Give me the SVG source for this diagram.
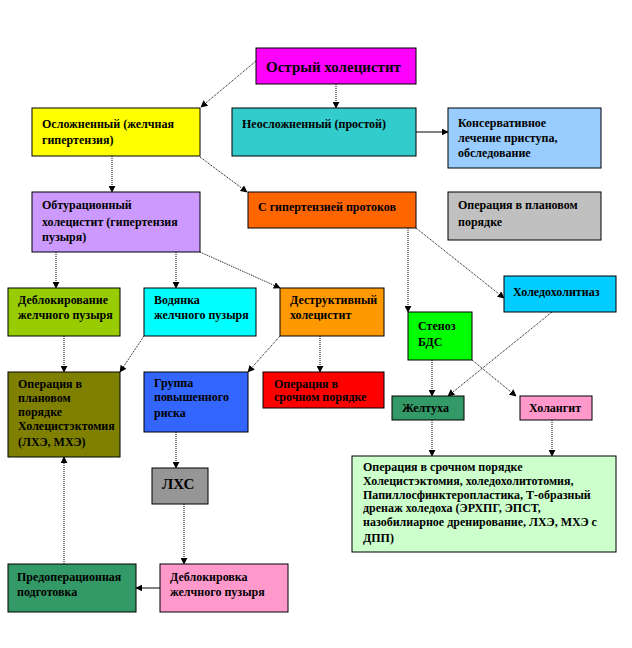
<svg xmlns="http://www.w3.org/2000/svg" width="632" height="648" viewBox="0 0 632 648">
<defs>
<marker id="ah" viewBox="0 0 10 10" refX="9" refY="5" markerWidth="7" markerHeight="7" orient="auto" markerUnits="userSpaceOnUse">
<path d="M0,0 L10,5 L0,10 z" fill="#000"/>
</marker>
<style>
.n rect{stroke:#000;stroke-width:1}
.n text{font-family:"Liberation Serif","Times New Roman",serif;font-weight:bold;font-size:12px;fill:#000}
.c line{stroke:#000;stroke-width:1;marker-end:url(#ah)}
.c .d{stroke-dasharray:1 1}
</style>
</defs>
<rect width="632" height="648" fill="#fff"/>
<g class="c" id="connectors">
<line class="d" x1="256" y1="61" x2="201" y2="107"/>
<line class="d" x1="336" y1="84" x2="336" y2="108"/>
<line x1="416" y1="132" x2="448" y2="132"/>
<line class="d" x1="112" y1="156" x2="112" y2="192"/>
<line class="d" x1="200" y1="157" x2="247" y2="192"/>
<line class="d" x1="56" y1="252" x2="56" y2="288"/>
<line class="d" x1="176" y1="252" x2="176" y2="288"/>
<line class="d" x1="200" y1="252" x2="280" y2="288"/>
<line class="d" x1="64" y1="336" x2="64" y2="372"/>
<line class="d" x1="144" y1="336" x2="120" y2="372"/>
<line class="d" x1="280" y1="336" x2="248" y2="372"/>
<line class="d" x1="320" y1="336" x2="320" y2="372"/>
<line class="d" x1="408" y1="228" x2="408" y2="312"/>
<line class="d" x1="416" y1="228" x2="504" y2="298"/>
<line class="d" x1="552" y1="312" x2="448" y2="396"/>
<line class="d" x1="432" y1="360" x2="432" y2="396"/>
<line class="d" x1="472" y1="360" x2="516" y2="396"/>
<line class="d" x1="432" y1="420" x2="432" y2="456"/>
<line class="d" x1="552" y1="420" x2="552" y2="456"/>
<line class="d" x1="176" y1="432" x2="176" y2="468"/>
<line class="d" x1="184" y1="504" x2="184" y2="564"/>
<line x1="160" y1="588" x2="136" y2="588"/>
<line class="d" x1="64" y1="564" x2="64" y2="457"/>
</g>
<g class="n" id="n1"><rect x="256" y="48" width="160" height="36" fill="#FF00FF"/><text x="266" y="72" style="font-size:15px">Острый холецистит</text></g>
<g class="n" id="n2"><rect x="32" y="108" width="168" height="48" fill="#FFFF00"/><text x="42" y="128">Осложненный (желчная</text><text x="42" y="144">гипертензия)</text></g>
<g class="n" id="n3"><rect x="232" y="108" width="184" height="48" fill="#33CCCC"/><text x="242" y="128">Неосложненный (простой)</text></g>
<g class="n" id="n4"><rect x="448" y="108" width="153" height="60" fill="#99CCFF"/><text x="458" y="127">Консервативное</text><text x="458" y="142">лечение приступа,</text><text x="458" y="157">обследование</text></g>
<g class="n" id="n5"><rect x="248" y="192" width="168" height="36" fill="#FF6600"/><text x="258" y="211">С гипертензией протоков</text></g>
<g class="n" id="n6"><rect x="448" y="192" width="153" height="48" fill="#C0C0C0"/><text x="458" y="209">Операция в плановом</text><text x="458" y="226">порядке</text></g>
<g class="n" id="n7"><rect x="32" y="192" width="168" height="60" fill="#CC99FF"/><text x="42" y="209">Обтурационный</text><text x="42" y="226">холецистит  (гипертензия</text><text x="42" y="241">пузыря)</text></g>
<g class="n" id="n8"><rect x="8" y="288" width="112" height="48" fill="#99CC00"/><text x="18" y="304">Деблокирование</text><text x="18" y="319">желчного пузыря</text></g>
<g class="n" id="n9"><rect x="144" y="288" width="112" height="48" fill="#00FFFF"/><text x="154" y="304">Водянка</text><text x="154" y="319">желчного пузыря</text></g>
<g class="n" id="n10"><rect x="280" y="288" width="104" height="48" fill="#FF9900"/><text x="290" y="304">Деструктивный</text><text x="290" y="319">холецистит</text></g>
<g class="n" id="n11"><rect x="8" y="372" width="112" height="85" fill="#808000"/><text x="18" y="388">Операция в</text><text x="18" y="402">плановом</text><text x="18" y="416">порядке</text><text x="18" y="430">Холецистэктомия</text><text x="18" y="446">(ЛХЭ, МХЭ)</text></g>
<g class="n" id="n12"><rect x="144" y="372" width="104" height="60" fill="#3366FF"/><text x="154" y="387">Группа</text><text x="154" y="401">повышенного</text><text x="154" y="417">риска</text></g>
<g class="n" id="n13"><rect x="263" y="372" width="121" height="36" fill="#FF0000"/><text x="274" y="388">Операция в</text><text x="274" y="401">срочном порядке</text></g>
<g class="n" id="n14"><rect x="504" y="276" width="112" height="36" fill="#00CCFF"/><text x="513" y="296">Холедохолитиаз</text></g>
<g class="n" id="n15"><rect x="408" y="312" width="64" height="48" fill="#00FF00"/><text x="418" y="330">Стеноз</text><text x="418" y="346">БДС</text></g>
<g class="n" id="n16"><rect x="392" y="396" width="72" height="24" fill="#339966"/><text x="402" y="412">Желтуха</text></g>
<g class="n" id="n17"><rect x="520" y="396" width="72" height="24" fill="#FF99CC"/><text x="529" y="412">Холангит</text></g>
<g class="n" id="n18"><rect x="352" y="456" width="264" height="96" fill="#CCFFCC"/><text x="363" y="471">Операция в срочном порядке</text><text x="363" y="485">Холецистэктомия, холедохолитотомия,</text><text x="363" y="499">Папиллосфинктеропластика,  Т-образный</text><text x="363" y="512">дренаж холедоха  (ЭРХПГ, ЭПСТ,</text><text x="363" y="526">назобилиарное  дренирование, ЛХЭ, МХЭ с</text><text x="363" y="542">ДПП)</text></g>
<g class="n" id="n19"><rect x="152" y="468" width="56" height="36" fill="#969696"/><text x="162" y="489" style="font-size:15px">ЛХС</text></g>
<g class="n" id="n20"><rect x="8" y="564" width="128" height="48" fill="#339966"/><text x="17" y="581">Предоперационная</text><text x="17" y="596">подготовка</text></g>
<g class="n" id="n21"><rect x="160" y="564" width="128" height="48" fill="#FF99CC"/><text x="170" y="581">Деблокировка</text><text x="170" y="596">желчного пузыря</text></g>
</svg>
